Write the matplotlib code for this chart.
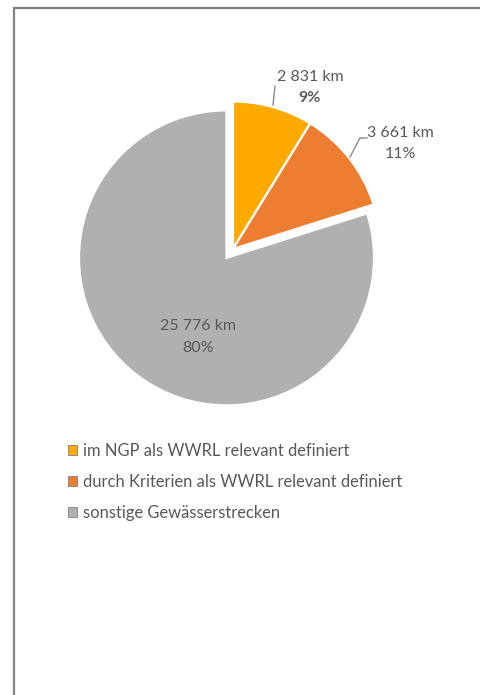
import matplotlib.pyplot as plt
from matplotlib.patches import Rectangle

# data
categories = ["im NGP als WWRL relevant definiert",
              "durch Kriterien als WWRL relevant definiert",
              "sonstige Gewässerstrecken"]
lengths_km = [2831, 3661, 25776]
colors = ["#FFAA00", "#ED7D31", "#B0B0B0"]

W, H = 481, 695
txt_color = "#595959"
plt.rcParams['font.family'] = ['Lato', 'DejaVu Sans']

fig = plt.figure(figsize=(W / 100, H / 100), dpi=100)
ax = fig.add_axes([0, 0, 1, 1])

# pie in pixel coordinates (y up)
wedges, _ = ax.pie(lengths_km, colors=colors, startangle=90, counterclock=False,
                   explode=[0, 0, 11], radius=147.5, center=(233, H - 249),
                   wedgeprops=dict(edgecolor="white", linewidth=1.6),
                   frame=True)
ax.set_xlim(0, W)
ax.set_ylim(0, H)
ax.set_aspect('auto')
ax.axis('off')

total = sum(lengths_km)
def km(v):
    return f"{v:,} km".replace(",", " ")
pct = [f"{round(100 * v / total)}%" for v in lengths_km]

fs = 11.5
# labels
ax.text(310, H - 77, km(lengths_km[0]), ha='center', va='center', fontsize=fs, color=txt_color)
ax.text(310, H - 98, pct[0], ha='center', va='center', fontsize=fs, color=txt_color, fontweight='bold')
ax.plot([275, 273], [H - 86, H - 105], color="#8c8c8c", lw=1)

ax.text(400, H - 133, km(lengths_km[1]), ha='center', va='center', fontsize=fs, color=txt_color)
ax.text(400, H - 154, pct[1], ha='center', va='center', fontsize=fs, color=txt_color)
ax.plot([367, 360, 350], [H - 138, H - 138, H - 157], color="#8c8c8c", lw=1)

ax.text(198, H - 326, km(lengths_km[2]), ha='center', va='center', fontsize=fs, color=txt_color)
ax.text(198, H - 348, pct[2], ha='center', va='center', fontsize=fs, color=txt_color)

# legend
leg = ax.legend(wedges, categories, loc='upper left', bbox_to_anchor=(68 / W, 1 - 443 / H),
                frameon=False, fontsize=11.9, handlelength=0.54, handleheight=0.54,
                handletextpad=0.36, labelspacing=0.9, borderaxespad=0, borderpad=0)
for t in leg.get_texts():
    t.set_color(txt_color)
for h in leg.legend_handles:
    h.set_edgecolor("#7f7f7f")
    h.set_linewidth(0.6)

# frame around chart area
fig.add_artist(Rectangle((14 / W, -0.1), 1.2, (H - 7.5) / H + 0.1, transform=fig.transFigure,
                         fill=False, edgecolor="#808080", linewidth=1.6, clip_on=False))

fig.savefig("out.png", dpi=100)
